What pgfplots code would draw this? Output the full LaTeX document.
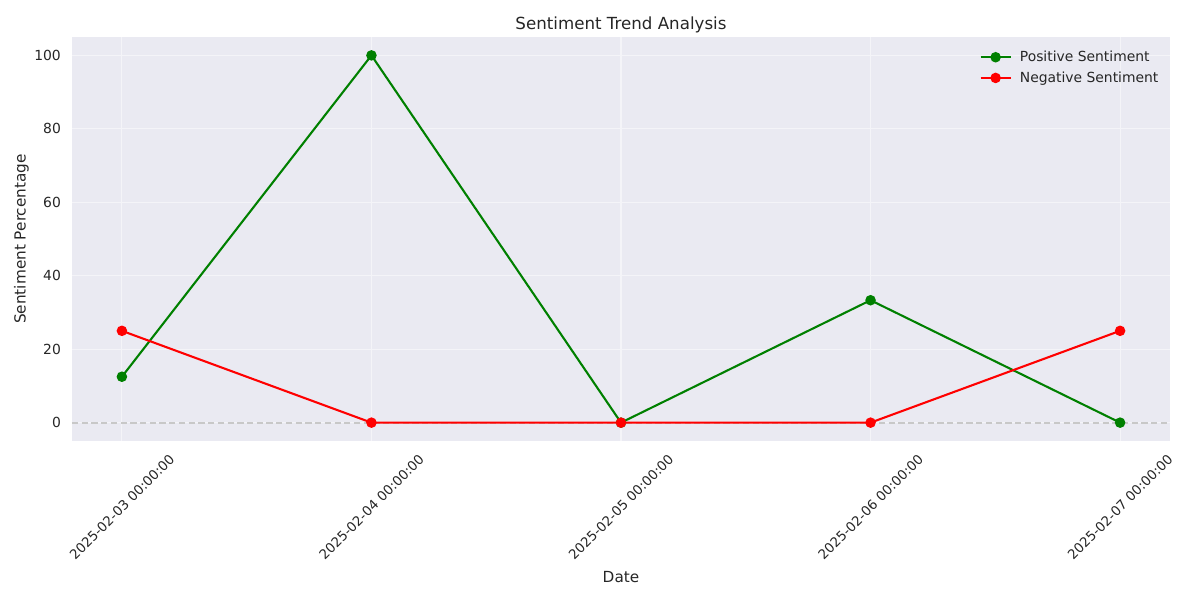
\documentclass[border=0pt]{standalone}
\usepackage{pgfplots}
\pgfplotsset{compat=1.18}
\usepackage{fontspec}
\setmainfont{DejaVu Sans}
\definecolor{bgcol}{HTML}{EAEAF2}
\definecolor{gridcol}{HTML}{F4F4F8}
\definecolor{textcol}{HTML}{262626}
\definecolor{posgreen}{RGB}{0,128,0}
\definecolor{negred}{RGB}{255,0,0}
\definecolor{zerocol}{HTML}{C8C8C8}
\begin{document}
\begin{tikzpicture}
\begin{axis}[
  scale only axis,
  width=790.56pt, height=290.88pt,
  xmin=-0.2, xmax=4.2, ymin=-5, ymax=105,
  axis background/.style={fill=bgcol},
  axis line style={draw=none},
  major tick length=0pt,
  tick style={draw=none},
  xtick={0,1,2,3,4},
  xticklabels={2025-02-03 00:00:00,2025-02-04 00:00:00,2025-02-05 00:00:00,2025-02-06 00:00:00,2025-02-07 00:00:00},
  ytick={0,20,40,60,80,100},
  grid=major,
  grid style={gridcol, line width=0.8pt},
  /pgf/number format/assume math mode=true,
  ticklabel style={font=\fontsize{10}{12}\selectfont, text=textcol},
  xticklabel style={rotate=45, anchor=center, font=\fontsize{9.6}{12}\selectfont},
  xticklabel shift=47.5pt,
  yticklabel style={xshift=-4.5pt},
  title={Sentiment Trend Analysis},
  title style={at={(0.5,1)}, anchor=base, yshift=-0.8pt, font=\fontsize{12}{14}\selectfont, text=textcol},
  xlabel={Date},
  ylabel={Sentiment Percentage},
  every axis x label/.style={at={(rel axis cs:0.5,0)}, yshift=-98pt, anchor=center, font=\fontsize{11}{13}\selectfont, text=textcol},
  every axis y label/.style={at={(rel axis cs:0,0.5)}, xshift=-36.5pt, rotate=90, anchor=center, font=\fontsize{11}{13}\selectfont, text=textcol},
  legend style={draw=none, fill=none, at={(rel axis cs:0.996,0.98)}, anchor=north east, font=\fontsize{10}{12}\selectfont, text=textcol, row sep=1.8pt},
  legend cell align=left,
  legend image code/.code={\draw[mark repeat=2,mark phase=2] plot coordinates {(0pt,0pt) (10.8pt,0pt) (21.6pt,0pt)}; \path (25.5pt,0pt);},
]
\addplot[zerocol, line width=1.5pt, dash pattern=on 4.5pt off 2.5pt, forget plot] coordinates {(-0.2,0) (4.2,0)};
\addplot[posgreen, line width=1.5pt, mark=*, mark size=3pt, mark options={solid, fill=posgreen}] coordinates {
(0,12.5) (1,100) (2,0) (3,33.33) (4,0)};
\addlegendentry{Positive Sentiment}
\addplot[negred, line width=1.5pt, mark=*, mark size=3pt, mark options={solid, fill=negred}] coordinates {
(0,25) (1,0) (2,0) (3,0) (4,25)};
\addlegendentry{Negative Sentiment}
\end{axis}
\pgfresetboundingbox
\path[use as bounding box] ([shift={(-51.84pt,-114.48pt)}]current axis.south west) rectangle ([shift={(21.6pt,26.64pt)}]current axis.north east);
\end{tikzpicture}
\end{document}
